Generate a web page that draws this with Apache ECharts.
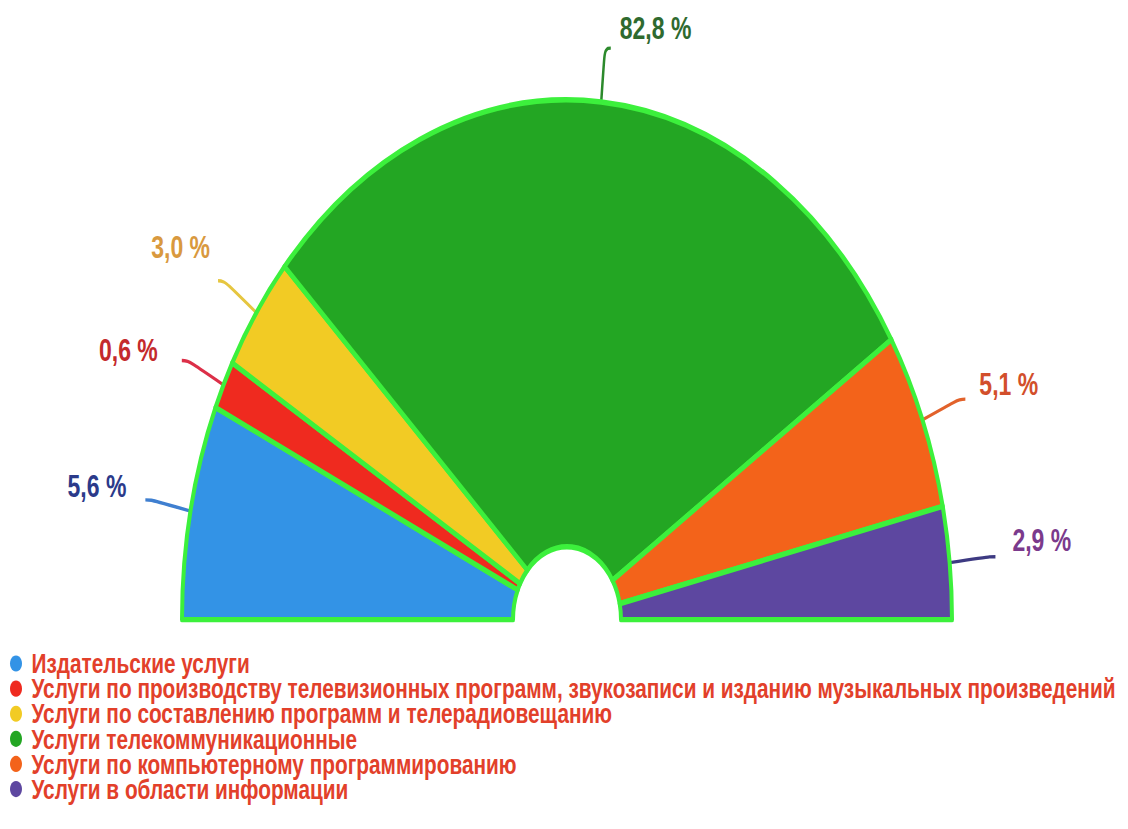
<!DOCTYPE html>
<html>
<head>
<meta charset="utf-8">
<script src="https://cdn.jsdelivr.net/npm/echarts@6/dist/echarts.min.js"></script>
<style>
  html, body { margin: 0; padding: 0; background: #fff; }
  #wrap { width: 1128px; height: 829px; overflow: hidden; }
  /* the original picture is stretched vertically, so the whole chart is too */
  #chart { width: 1128px; height: 614px; transform: scaleY(1.35); transform-origin: 0 0; }
</style>
</head>
<body>
<div id="wrap"><div id="chart"></div></div>
<script>
// categories (legend order = slice order, left to right)
const categories = [
  'Издательские услуги',
  'Услуги по производству телевизионных программ, звукозаписи и изданию музыкальных произведений',
  'Услуги по составлению программ и телерадиовещанию',
  'Услуги телекоммуникационные',
  'Услуги по компьютерному программированию',
  'Услуги в области информации'
];
// angular size of each slice, degrees of the half circle (as drawn)
const sliceDegrees = [24.1, 5.5, 13.2, 104.6, 20.0, 12.6];
// shares printed on the labels, %
const sharePercent = [5.6, 0.6, 3.0, 82.8, 5.1, 2.9];

const sliceColors = ['#3393e6', '#ef2a1f', '#f2cb24', '#23a623', '#f3631a', '#5d47a0'];
const labelColors = ['#2b3a8a', '#c42a2c', '#d9993e', '#2f6a2f', '#d24f2b', '#7b3a8c'];
const lineColors  = ['#3f7fd0', '#dc2f48', '#e6c640', '#2c8a2c', '#e2622b', '#3d3a82'];
// empty line under each label text, lifts the text above the line end
const labelLift = [20, 16, 50, 30, 22, 25];
// gap between line end and label text
const labelGap = [19, 24, 8, 9, 14, 17];

const chart = echarts.init(document.getElementById('chart'), null, { renderer: 'svg' });

const pieData = categories.map((name, i) => ({
  name: name,
  value: sliceDegrees[i],
  itemStyle: { color: sliceColors[i] },
  label: {
    distanceToLabelLine: labelGap[i],
    rich: {
      t: { color: labelColors[i], fontSize: 23, fontWeight: 'bold', fontFamily: 'Liberation Sans, Arial, sans-serif', lineHeight: 24 },
      s: { height: labelLift[i], lineHeight: labelLift[i] }
    }
  },
  labelLine: { lineStyle: { color: lineColors[i] } }
}));

chart.setOption({
  animation: false,
  legend: {
    orient: 'vertical',
    left: 5,
    top: 476,
    itemWidth: 13,
    itemHeight: 12,
    itemGap: -2.4,
    icon: 'circle',
    selectedMode: false,
    itemStyle: { borderWidth: 0 },
    textStyle: {
      color: '#e2402a',
      fontFamily: 'Liberation Sans, Arial, sans-serif',
      fontWeight: 'bold',
      fontSize: 20.8,
      padding: [0, 0, 0, 4]
    },
    data: categories
  },
  series: [{
    type: 'pie',
    center: [567, 459],
    radius: [54, 385],
    startAngle: 180,
    endAngle: 0,
    silent: true,
    itemStyle: { borderColor: '#3cf03c', borderWidth: 4 },
    label: {
      show: true,
      position: 'outside',
      formatter: p => '{t|' + sharePercent[p.dataIndex].toFixed(1).replace('.', ',') + ' %}\n{s|}'
    },
    labelLine: {
      show: true,
      length: 40,
      length2: 6,
      smooth: 0.5,
      lineStyle: { width: 2.5 }
    },
    data: pieData
  }]
});
</script>
</body>
</html>
